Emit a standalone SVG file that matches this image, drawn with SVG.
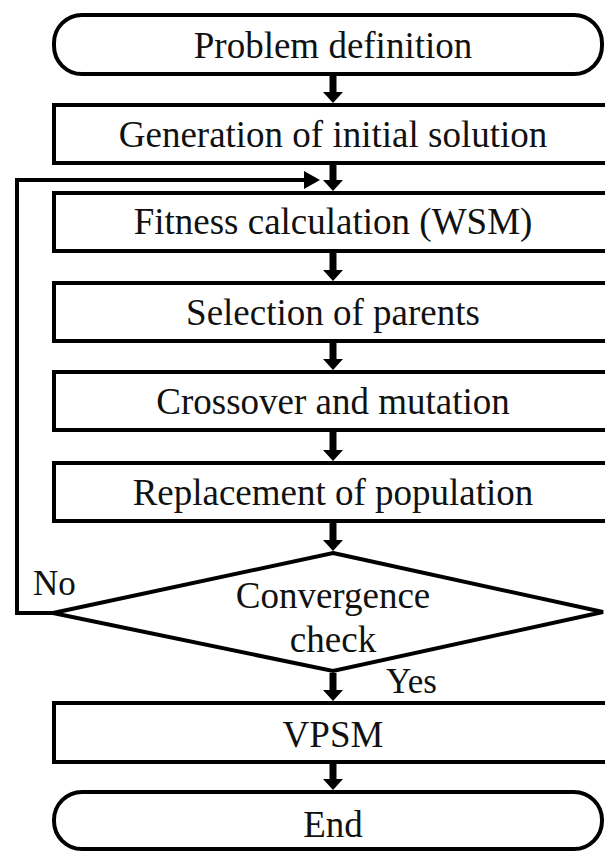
<svg xmlns="http://www.w3.org/2000/svg" width="605" height="852" viewBox="0 0 605 852">
<style>
.box{fill:#fff;stroke:#000;stroke-width:4}
.ntext{font-family:'Liberation Serif','Times New Roman',serif;font-size:37px;fill:#111;text-anchor:middle}
.elabel{font-family:'Liberation Serif','Times New Roman',serif;font-size:35px;fill:#111}
.ln{fill:none;stroke:#000;stroke-width:4}
.sh{fill:none;stroke:#000;stroke-width:7}
.hd{fill:#000}
</style>
<rect width="605" height="852" fill="#fff"/>
<g id="n1"><rect class="box" x="54" y="15" width="548" height="59" rx="28" ry="28"/><text class="ntext" x="333" y="58">Problem definition</text></g>
<g id="n2"><rect class="box" x="54" y="105" width="570" height="58"/><text class="ntext" x="333" y="147">Generation of initial solution</text></g>
<g id="n3"><rect class="box" x="54" y="193" width="570" height="58"/><text class="ntext" x="333" y="234">Fitness calculation (WSM)</text></g>
<g id="n4"><rect class="box" x="54" y="283" width="570" height="58"/><text class="ntext" x="333" y="325">Selection of parents</text></g>
<g id="n5"><rect class="box" x="54" y="372" width="570" height="58"/><text class="ntext" x="333" y="414">Crossover and mutation</text></g>
<g id="n6"><rect class="box" x="54" y="463" width="570" height="58"/><text class="ntext" x="333" y="505">Replacement of population</text></g>
<g id="n7"><polygon class="box" points="333,553 603,612 333,671 53,613"/><text class="ntext" x="333" y="608">Convergence</text><text class="ntext" x="333" y="652">check</text></g>
<g id="n8"><rect class="box" x="54" y="703" width="570" height="59"/><text class="ntext" x="333" y="747">VPSM</text></g>
<g id="n9"><rect class="box" x="54" y="792" width="548" height="57" rx="28" ry="28"/><text class="ntext" x="333" y="837">End</text></g>
<g id="connectors">
<line class="sh" x1="333" y1="76" x2="333" y2="95"/><polygon class="hd" points="323,92 343,92 333,103"/>
<line class="sh" x1="333" y1="165" x2="333" y2="183"/><polygon class="hd" points="323,180 343,180 333,191"/>
<line class="sh" x1="333" y1="253" x2="333" y2="273"/><polygon class="hd" points="323,270 343,270 333,281"/>
<line class="sh" x1="333" y1="343" x2="333" y2="362"/><polygon class="hd" points="323,359 343,359 333,370"/>
<line class="sh" x1="333" y1="432" x2="333" y2="453"/><polygon class="hd" points="323,450 343,450 333,461"/>
<line class="sh" x1="333" y1="523" x2="333" y2="543"/><polygon class="hd" points="323,540 343,540 333,551"/>
<line class="sh" x1="333" y1="673" x2="333" y2="693"/><polygon class="hd" points="323,690 343,690 333,701"/>
<line class="sh" x1="333" y1="764" x2="333" y2="782"/><polygon class="hd" points="323,779 343,779 333,790"/>
<polyline class="ln" points="53,613 17,613 17,180 306,180"/><polygon class="hd" points="304,171 320,180 304,189"/>
</g>
<text class="elabel" x="33" y="595">No</text>
<text class="elabel" x="386" y="693">Yes</text>
</svg>
